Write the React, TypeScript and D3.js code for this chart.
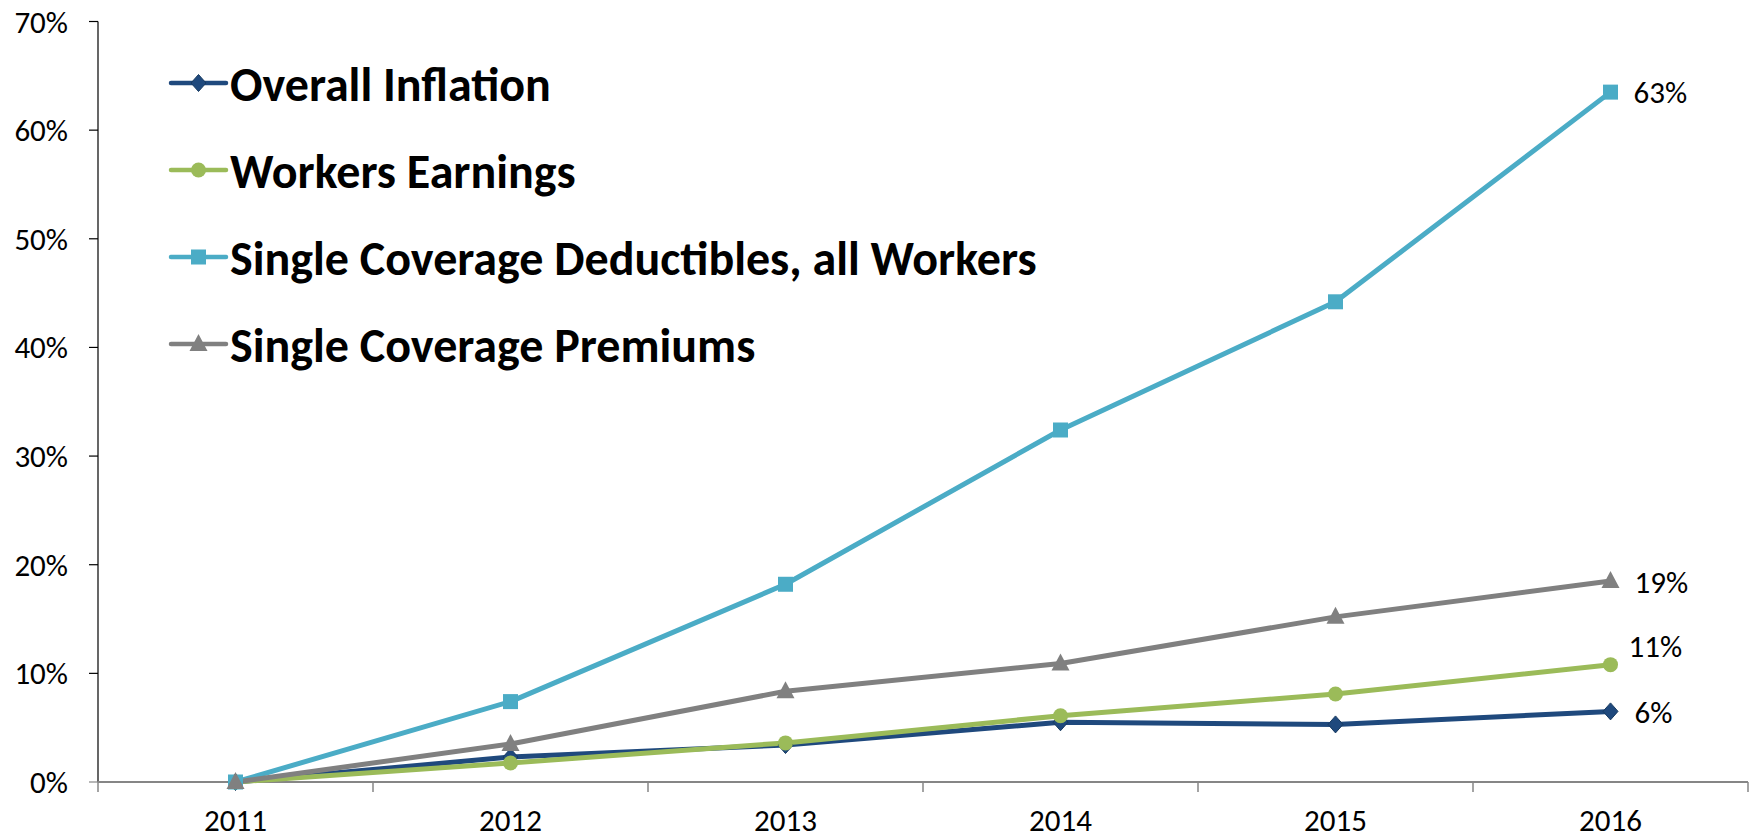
import React from 'react';
import * as d3 from 'd3';

// years on the x axis
const years = ['2011', '2012', '2013', '2014', '2015', '2016'];

// cumulative change since 2011, in percent
const overallInflation = [0, 2.3, 3.4, 5.5, 5.3, 6.5];
const workersEarnings = [0, 1.75, 3.6, 6.1, 8.1, 10.8];
const deductibles = [0, 7.4, 18.2, 32.4, 44.2, 63.5];
const premiums = [0, 3.5, 8.35, 10.9, 15.2, 18.5];

const yTicks = [0, 10, 20, 30, 40, 50, 60, 70];

const seriesNames = [
  'Overall Inflation',
  'Workers Earnings',
  'Single Coverage Deductibles, all Workers',
  'Single Coverage Premiums',
];
const endLabels = ['6%', '11%', '19%', '63%'];

const W = 1756;
const H = 838;
const margin = { top: 21.5, right: 8, bottom: 56, left: 98 };

const font = "Calibri, Carlito, 'Open Sans', sans-serif";

type Marker = 'diamond' | 'circle' | 'square' | 'triangle';

const series = [
  { name: seriesNames[0], values: overallInflation, color: '#1F497D', marker: 'diamond' as Marker, label: endLabels[0], dx: 24, dy: 1 },
  { name: seriesNames[1], values: workersEarnings, color: '#9BBB59', marker: 'circle' as Marker, label: endLabels[1], dx: 18, dy: -19 },
  { name: seriesNames[2], values: deductibles, color: '#4BACC6', marker: 'square' as Marker, label: endLabels[3], dx: 23, dy: 0 },
  { name: seriesNames[3], values: premiums, color: '#808080', marker: 'triangle' as Marker, label: endLabels[2], dx: 24, dy: 1 },
];

function MarkerShape({ kind, cx, cy, color }: { kind: Marker; cx: number; cy: number; color: string }) {
  if (kind === 'circle') return <circle cx={cx} cy={cy} r={7.5} fill={color} />;
  if (kind === 'square') return <rect x={cx - 7.5} y={cy - 7.5} width={15} height={15} fill={color} />;
  if (kind === 'diamond')
    return (
      <path
        d={`M${cx},${cy - 8.5}L${cx + 7.5},${cy}L${cx},${cy + 8.5}L${cx - 7.5},${cy}Z`}
        fill={color}
        stroke="#173a60"
        strokeWidth={1}
      />
    );
  return <path d={`M${cx},${cy - 10}L${cx + 9},${cy + 7}L${cx - 9},${cy + 7}Z`} fill={color} />;
}

export default function App() {
  const x = d3.scaleBand().domain(years).range([margin.left, W - margin.right]);
  const y = d3.scaleLinear().domain([0, 70]).range([H - margin.bottom, margin.top]);
  const cx = (yr: string) => (x(yr) as number) + x.bandwidth() / 2;

  const line = d3
    .line<number>()
    .x((_, i) => cx(years[i]))
    .y((v) => y(v));

  const x0 = margin.left;
  const y0 = y(0);
  const bounds = [...years.map((yr) => x(yr) as number), W - margin.right];

  return (
    <div style={{ position: 'absolute', left: 0, top: 0 }}>
      <svg width={W} height={H} style={{ display: 'block', background: '#fff' }}>
        {/* y axis */}
        <line x1={x0} x2={x0} y1={y(70)} y2={y0} stroke="#000" strokeWidth={1.2} />
        {yTicks.map((t) => (
          <g key={t}>
            <line x1={x0 - 9} x2={x0} y1={y(t)} y2={y(t)} stroke={t === 0 ? '#868686' : '#000'} strokeWidth={1.2} />
            <text x={68} y={y(t)} textAnchor="end" dominantBaseline="central" fontFamily={font} fontSize={31} fill="#000">
              {t}%
            </text>
          </g>
        ))}

        {/* x axis */}
        <line x1={x0} x2={W - margin.right} y1={y0} y2={y0} stroke="#868686" strokeWidth={1.8} />
        {bounds.map((b, i) => (
          <line key={i} x1={b} x2={b} y1={y0} y2={y0 + 10} stroke="#868686" strokeWidth={1.5} />
        ))}
        {years.map((yr) => (
          <text key={yr} x={cx(yr)} y={831} textAnchor="middle" fontFamily={font} fontSize={31} fill="#000">
            {yr}
          </text>
        ))}

        {/* lines */}
        {series.map((s) => (
          <path key={s.name} d={line(s.values) || ''} fill="none" stroke={s.color} strokeWidth={5} strokeLinejoin="round" />
        ))}
        {series.map((s) => (
          <g key={s.name + '-m'}>
            {s.values.map((v, i) => (
              <MarkerShape key={i} kind={s.marker} cx={cx(years[i])} cy={y(v)} color={s.color} />
            ))}
          </g>
        ))}

        {/* end labels */}
        {series.map((s) => {
          const last = s.values.length - 1;
          return (
            <text
              key={s.name + '-l'}
              x={cx(years[last]) + s.dx}
              y={y(s.values[last]) + s.dy}
              dominantBaseline="central"
              fontFamily={font}
              fontSize={31}
              fill="#000"
            >
              {s.label}
            </text>
          );
        })}

        {/* legend */}
        {series.map((s, i) => {
          const ly = 83 + i * 87;
          return (
            <g key={s.name + '-lg'}>
              <line x1={171} x2={226} y1={ly} y2={ly} stroke={s.color} strokeWidth={4.5} strokeLinecap="round" />
              <MarkerShape kind={s.marker} cx={198.5} cy={ly} color={s.color} />
              <text x={230} y={ly + 1} dominantBaseline="central" fontFamily={font} fontWeight="bold" fontSize={48} fill="#000">
                {s.name}
              </text>
            </g>
          );
        })}
      </svg>
    </div>
  );
}
